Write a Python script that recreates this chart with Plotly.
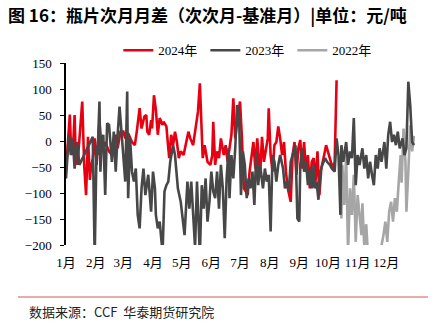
import pandas as pd
import plotly.graph_objects as go

# Day-of-year positions (trading days) and month spread values, 元/吨
days_2024 = [1, 3, 5, 6, 8, 10, 11, 13, 15, 18, 20, 22, 24, 26, 27, 29, 31, 33, 36, 38,
             40, 42, 46, 49, 53, 55, 58, 61, 63, 66, 70, 73, 75, 78, 80, 83, 85, 86, 88, 90,
             91, 93, 95, 97, 99, 102, 103, 106, 108, 109, 111, 113, 115, 117, 119, 121, 124, 126, 129, 131,
             134, 136, 139, 141, 143, 144, 146, 149, 152, 154, 155, 157, 159, 161, 163, 166, 168, 170, 172, 174,
             176, 178, 180, 183, 185, 187, 189, 191, 193, 195, 197, 199, 201, 204, 206, 208, 210, 212, 213, 215,
             217, 219, 221, 223, 225, 227, 229, 231, 233, 236, 238, 240, 242, 244, 246, 248, 250, 252, 254, 256,
             258, 260, 262, 264, 266, 268, 271, 273, 276, 278, 280, 282, 284]
vals_2024 = [-56, -8, 51, 0, -27, 50, -20, -46, 5, 76, -46, -104, 8, -75, -53, -33, 5, -46, 37, -8,
             -14, -2, -20, -27, 12, -14, 18, 18, 5, 15, -2, -8, 18, 63, 24, 47, 50, 18, 12, 40,
             24, 88, 60, 12, 44, 31, 37, 28, -14, -33, 12, -8, 18, -2, -33, -20, -27, -8, 18, 5,
             -8, 18, 56, 111, 12, -33, -8, -40, -46, -27, 37, -46, -20, -33, 5, -27, -8, -40, -14, 12,
             82, 5, 37, 76, 5, -91, -97, -104, -59, -27, -2, -53, 5, -65, 8, -40, -20, 5, 63, -27,
             -59, -8, -2, 28, 5, -27, -2, -59, -91, -117, -27, -2, -65, -14, 2, -53, -2, -59, -27, -91,
             -40, -33, -78, -20, -104, -53, -27, -8, -27, -40, -53, -40, 117]

days_2023 = [1, 4, 6, 8, 10, 12, 13, 15, 29, 31, 33, 34, 36, 37, 38, 40, 42, 44, 46, 49,
             51, 53, 55, 57, 59, 61, 63, 65, 66, 68, 70, 72, 74, 76, 78, 80, 82, 84, 87, 90,
             92, 94, 95, 97, 99, 102, 104, 106, 108, 110, 113, 115, 116, 118, 121, 123, 125, 128, 130, 132,
             134, 136, 138, 141, 143, 145, 147, 149, 151, 153, 155, 157, 159, 161, 163, 165, 167, 169, 171, 172,
             174, 176, 178, 180, 182, 184, 186, 188, 190, 192, 194, 196, 198, 200, 202, 204, 207, 209, 211, 213,
             215, 217, 219, 221, 223, 225, 228, 230, 232, 234, 236, 238, 241, 243, 245, 246, 248, 250, 252, 254,
             256, 258, 260, 261, 263, 265, 267, 269, 272, 274, 277, 279, 282, 284, 286, 288, 289, 291, 294, 296,
             298, 300, 302, 304, 306, 308, 311, 313, 315, 317, 319, 321, 323, 325, 327, 329, 331, 334, 336, 338,
             340, 342, 344, 346, 348, 350, 353, 355, 357, 359, 361, 363, 365]
vals_2023 = [-72, 12, -27, 5, -53, -2, -8, -46, 8, -225, -8, -27, 76, -59, -14, 12, -104, 34, 31, -40,
             18, -59, 12, 66, 18, -27, -78, 95, -110, 5, -59, -78, -53, -142, -168, -91, -53, -104, -65, -136,
             -59, -91, -142, -168, -155, -215, -97, -85, -78, -40, -8, -27, -46, -91, -117, -155, -181, -78, -130, -78,
             -142, -205, -78, -220, -85, -130, -72, -155, -117, -59, -97, -110, -59, -130, -46, -91, -187, -72, -14, -110,
             -27, -72, -14, 69, 50, -104, -20, -46, -110, -72, -91, -59, -123, -20, -85, -46, -91, -53, -78, -65,
             -174, -27, -40, -78, -46, -27, -53, -91, -78, -97, -40, -27, -8, -149, -155, -46, -14, -59, -40, -85,
             -53, -91, -46, -91, -78, -113, -59, -46, -33, -40, -46, -53, -59, 5, -27, -142, -8, -40, -2, -46,
             -20, -33, 44, -85, -27, -46, -14, -53, -27, -72, -40, -65, -85, -27, -53, -14, -40, -2, -53, 12,
             37, -2, 12, -8, 18, -14, 5, -27, -14, 114, 69, -2, -8]

days_2022 = [289, 290, 292, 294, 296, 298, 300, 302, 304, 306, 308, 310, 311, 313, 315, 318, 323, 328, 333, 335,
             337, 339, 341, 343, 345, 347, 349, 351, 352, 354, 356, 357, 359, 361, 363, 365]
vals_2022 = [-149, -46, -123, -27, -215, -91, -142, -65, -194, -104, -142, -181, -120, -205, -160, -260, -250, -230, -181, -155,
             -194, -136, -117, -155, -110, -136, -78, -27, -80, 24, -40, -136, -60, 30, -20, 10]

series = [
    ("2022年", days_2022, vals_2022, "#a6a6a6", 3),
    ("2024年", days_2024, vals_2024, "#e60012", 1),
    ("2023年", days_2023, vals_2023, "#474747", 2),
]

base = pd.Timestamp("2024-01-01")


def to_dates(days):
    return [base + pd.Timedelta(days=d - 1) for d in days]


fig = go.Figure()
for name, d, v, color, rank in series:
    fig.add_trace(go.Scatter(
        x=to_dates(d), y=v, mode="lines", name=name, legendrank=rank,
        line=dict(color=color, width=2.6), cliponaxis=True,
    ))

serif = "'Liberation Serif', 'Times New Roman', 'Noto Sans CJK SC', serif"
cjk = "'Noto Sans CJK SC', 'Noto Sans', sans-serif"

fig.update_layout(
    width=436, height=323,
    margin=dict(l=66, r=21, t=63, b=78),
    paper_bgcolor="white", plot_bgcolor="white",
    font=dict(family=serif, size=12, color="#000"),
    title=dict(
        text="<b>图 16：瓶片次月月差（次次月-基准月）|单位：元/吨</b>",
        font=dict(family=cjk, size=17, color="#000"),
        xref="container", x=8 / 436, xanchor="left",
        yref="container", y=1 - 16 / 323, yanchor="middle",
    ),
    showlegend=True,
    legend=dict(
        orientation="h", x=0.15, xanchor="left", y=1.07, yanchor="middle",
        font=dict(family=serif, size=13, color="#000"),
        entrywidth=42, entrywidthmode="pixels", itemwidth=30,
        bgcolor="rgba(0,0,0,0)",
    ),
    xaxis=dict(
        type="date", range=["2024-01-01", "2024-12-31"],
        tick0="2024-01-01", dtick="M1", tickformat="%-m月",
        showline=False, ticks="", showgrid=False, zeroline=False,
        ticklabelstandoff=8,
        tickfont=dict(family=serif, size=13, color="#000"),
    ),
    xaxis2=dict(
        type="date", overlaying="x", matches="x", anchor="free",
        position=200 / 350, side="bottom",
        tick0="2024-01-01", dtick="M1",
        showline=True, linecolor="#000", linewidth=1.5,
        ticks="outside", ticklen=4, tickcolor="#000", tickwidth=1,
        showticklabels=False, showgrid=False, zeroline=False,
    ),
    yaxis=dict(
        range=[-200, 150], dtick=50, showgrid=False, zeroline=False,
        showline=True, linecolor="#000", linewidth=1.5,
        ticks="outside", ticklen=4, tickcolor="#000",
        ticklabelstandoff=6,
        tickfont=dict(family=serif, size=13, color="#000"),
    ),
)

# Thin red rules above and below the chart body
for ypos in (1 + (245 - 43) / 182, -(297 - 245) / 182):
    fig.add_shape(type="line", xref="paper", yref="paper",
                  x0=(18 - 66) / 349, x1=(428 - 66) / 349, y0=ypos, y1=ypos,
                  line=dict(color="#d05a5a", width=1.2))

fig.add_annotation(
    text="数据来源：CCF  华泰期货研究院", xref="paper", yref="paper",
    x=(27 - 66) / 349, y=-(311 - 245) / 182, xanchor="left", yanchor="middle",
    showarrow=False, font=dict(family=cjk, size=13, color="#222"),
)

fig.write_html("out.html")
